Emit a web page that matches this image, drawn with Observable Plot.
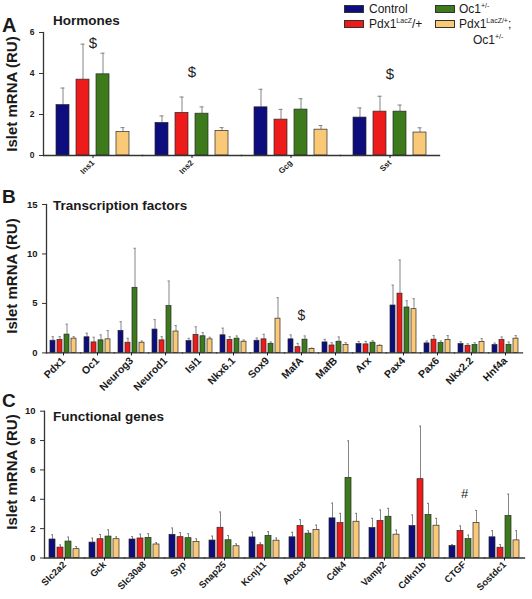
<!DOCTYPE html>
<html><head><meta charset="utf-8">
<script src="https://cdn.jsdelivr.net/npm/d3@7"></script>
<script src="https://cdn.jsdelivr.net/npm/@observablehq/plot@0.6"></script>
<style>
body{margin:0;background:#fff;font-family:"Liberation Sans",Arial,sans-serif;color:#1a1a1a;}
#wrap{position:relative;width:532px;height:599px;overflow:hidden;background:#fff;}
.panel{position:absolute;left:0;}
.letter{position:absolute;font-weight:bold;font-size:20px;line-height:1;}
.title{position:absolute;font-weight:bold;font-size:13.5px;line-height:1;white-space:nowrap;}
.ylab{position:absolute;font-weight:bold;font-size:15px;line-height:1;white-space:nowrap;transform:translate(-50%,-50%) rotate(-90deg);}
.sw{position:absolute;width:20px;height:8px;box-sizing:border-box;border:1px solid #333;}
.lt{position:absolute;font-size:12px;line-height:1;white-space:nowrap;}
.lt sup{font-size:7px;vertical-align:5px;line-height:0;}
</style></head>
<body><div id="wrap"></div>
<script>
const genotypes = ["Control", "Pdx1LacZ/+", "Oc1+/-", "Pdx1LacZ/+;Oc1+/-"];
const colors = ["#0d0d7d", "#ee1b1b", "#3c7a1b", "#f9c978"];

// Panel A: Hormones
const hormoneGenes = ["Ins1", "Ins2", "Gcg", "Sst"];
const hormoneMeans = [
  [2.46, 1.59, 2.35, 1.85],
  [3.70, 2.08, 1.75, 2.14],
  [3.96, 2.04, 2.24, 2.14],
  [1.14, 1.20, 1.26, 1.12]
];
const hormoneUpper = [
  [3.29, 1.93, 3.23, 2.32],
  [5.43, 2.85, 2.25, 2.89],
  [4.99, 2.37, 2.77, 2.46],
  [1.36, 1.36, 1.46, 1.35]
];
const hormoneMarks = [
  {gene: "Ins1", y: 5.48, label: "$"},
  {gene: "Ins2", y: 4.05, label: "$"},
  {gene: "Sst", y: 3.97, label: "$"}
];
const hormoneTicks = [0, 2, 4, 6];

// Panel B: Transcription factors
const tfGenes = ["Pdx1", "Oc1", "Neurog3", "Neurod1", "Isl1", "Nkx6.1", "Sox9", "MafA", "MafB", "Arx", "Pax4", "Pax6", "Nkx2.2", "Hnf4a"];
const tfMeans = [
  [1.23, 1.58, 2.23, 2.36, 1.20, 1.78, 1.23, 1.37, 1.06, 0.89, 4.79, 0.96, 0.89, 0.79],
  [1.30, 1.06, 1.03, 1.27, 1.82, 1.30, 1.37, 0.58, 0.75, 0.86, 5.99, 1.34, 0.72, 1.30],
  [1.85, 1.27, 6.58, 4.73, 1.68, 1.44, 0.92, 1.34, 1.13, 1.03, 4.59, 0.99, 0.79, 0.82],
  [1.44, 1.37, 1.03, 2.16, 1.37, 1.13, 3.46, 0.38, 0.79, 0.72, 4.42, 1.30, 1.10, 1.44]
];
const tfUpper = [
  [1.64, 1.99, 3.15, 3.36, 1.47, 2.50, 1.50, 1.82, 1.37, 1.16, 6.85, 1.20, 1.13, 0.99],
  [1.64, 1.58, 1.47, 1.64, 2.64, 1.64, 1.88, 0.96, 1.03, 1.16, 9.39, 1.75, 0.92, 1.61],
  [2.90, 1.82, 10.57, 7.26, 2.05, 1.71, 1.10, 1.71, 1.61, 1.23, 5.27, 1.20, 1.03, 1.10],
  [1.64, 2.26, 1.20, 2.77, 1.58, 1.30, 5.58, 0.48, 1.03, 0.79, 5.48, 1.75, 1.44, 1.75]
];
const tfMarks = [{gene: "MafA", y: 3.8, label: "$"}];
const tfTicks = [0, 5, 10, 15];

// Panel C: Functional genes
const fnGenes = ["Slc2a2", "Gck", "Slc30a8", "Syp", "Snap25", "Kcnj11", "Abcc8", "Cdk4", "Vamp2", "Cdkn1b", "CTGF", "Sostdc1"];
const fnMeans = [
  [1.26, 1.05, 1.26, 1.58, 1.19, 1.40, 1.41, 2.70, 2.04, 2.18, 0.82, 1.41],
  [0.71, 1.28, 1.33, 1.42, 2.06, 0.87, 2.18, 2.38, 2.52, 5.37, 1.84, 0.70],
  [1.12, 1.46, 1.37, 1.35, 1.21, 1.51, 1.66, 5.46, 2.81, 2.93, 1.29, 2.86],
  [0.60, 1.28, 0.92, 1.10, 0.80, 1.18, 1.90, 2.47, 1.59, 2.20, 2.38, 1.20]
];
const fnUpper = [
  [1.58, 1.35, 1.46, 2.04, 1.49, 1.76, 1.75, 3.74, 2.70, 2.93, 0.91, 1.86],
  [0.89, 1.60, 1.62, 1.74, 3.13, 1.03, 2.61, 3.04, 3.27, 8.98, 2.18, 0.91],
  [1.42, 1.92, 1.65, 1.65, 1.53, 1.80, 1.86, 7.98, 3.38, 3.72, 1.56, 4.35],
  [0.78, 1.44, 1.05, 1.30, 0.96, 1.36, 2.24, 3.04, 1.90, 2.70, 3.24, 1.86]
];
const fnMarks = [{gene: "CTGF", y: 4.35, label: "#"}];
const fnTicks = [0, 2, 4, 6, 8, 10];

function makePanel(o) {
  const rows = [];
  o.genes.forEach((g, i) => genotypes.forEach((t, k) => rows.push({gene: g, genotype: t, value: o.means[k][i], upper: o.upper[k][i]})));
  return Plot.plot({
    width: 532, height: o.height,
    marginTop: o.marginTop, marginBottom: o.marginBottom, marginLeft: o.marginLeft, marginRight: o.marginRight,
    style: {fontFamily: "Liberation Sans, Arial, sans-serif", background: "transparent", color: "#1a1a1a", overflow: "visible"},
    fx: {domain: o.genes, padding: 0, label: null},
    x: {domain: genotypes, paddingInner: o.padIn, paddingOuter: o.padOut, axis: null},
    y: {domain: o.yDomain, axis: null},
    color: {domain: genotypes, range: colors},
    marks: [
      Plot.ruleX(rows, {fx: "gene", x: "genotype", y1: "value", y2: "upper", stroke: "#858585", strokeWidth: 1}),
      Plot.tickY(rows, {fx: "gene", x: "genotype", y: "upper", stroke: "#858585", strokeWidth: 1, insetLeft: o.capInset, insetRight: o.capInset}),
      Plot.barY(rows, {fx: "gene", x: "genotype", y: "value", fill: "genotype", stroke: "#2a2a2a", strokeWidth: 0.7}),
      Plot.text(o.marks, {fx: "gene", y: "y", text: "label", fontSize: o.markFont, fill: "#222"}),
      Plot.frame({anchor: "bottom", stroke: "#333", strokeWidth: 1.3}),
      Plot.frame({anchor: "left", facetAnchor: "left", stroke: "#333", strokeWidth: 1.3}),
      Plot.axisY(o.ticks, {anchor: "left", tickSize: 4, fontSize: o.yFont, fontWeight: "bold", label: null, stroke: "#333"}),
      Plot.axisFx({anchor: "bottom", tickRotate: -45, tickSize: 3, tickPadding: o.xPad, fontSize: o.xFont, fontWeight: "bold", label: null})
    ]
  });
}

const wrap = document.getElementById("wrap");
function place(el, top) { el.classList.add("panel"); el.style.top = top + "px"; wrap.appendChild(el); }

place(makePanel({genes: hormoneGenes, means: hormoneMeans, upper: hormoneUpper, marks: hormoneMarks, ticks: hormoneTicks,
  yDomain: [0, 6], height: 190, marginTop: 32, marginBottom: 35, marginLeft: 42, marginRight: 93,
  padIn: 0.36, padOut: 0.55, capInset: 4.5, xFont: 8, xPad: 3, yFont: 8.5, markFont: 15}), 0);
place(makePanel({genes: tfGenes, means: tfMeans, upper: tfUpper, marks: tfMarks, ticks: tfTicks,
  yDomain: [0, 15], height: 205, marginTop: 14, marginBottom: 42.6, marginLeft: 40, marginRight: 4,
  padIn: 0.25, padOut: 0.48, capInset: 1.5, xFont: 10.5, xPad: 3, yFont: 9.5, markFont: 14}), 190);
place(makePanel({genes: fnGenes, means: fnMeans, upper: fnUpper, marks: fnMarks, ticks: fnTicks,
  yDomain: [0, 10], height: 204, marginTop: 15.7, marginBottom: 41.5, marginLeft: 40, marginRight: 4,
  padIn: 0.23, padOut: 0.47, capInset: 2, xFont: 9.5, xPad: 2, yFont: 9.5, markFont: 13}), 395);

const html = `
<div class="letter" style="left:2px;top:15px">A</div>
<div class="letter" style="left:2px;top:187px;font-size:19px">B</div>
<div class="letter" style="left:2px;top:391px;font-size:19px">C</div>
<div class="title" style="left:53px;top:14px">Hormones</div>
<div class="title" style="left:53px;top:199px">Transcription factors</div>
<div class="title" style="left:53px;top:410px">Functional genes</div>
<div class="ylab" style="left:11px;top:94px">Islet mRNA (RU)</div>
<div class="ylab" style="left:11px;top:276px">Islet mRNA (RU)</div>
<div class="ylab" style="left:11px;top:472px">Islet mRNA (RU)</div>
<div class="sw" style="left:344px;top:5px;background:${colors[0]}"></div>
<div class="lt" style="left:369px;top:3px">Control</div>
<div class="sw" style="left:435px;top:5px;background:${colors[2]}"></div>
<div class="lt" style="left:459px;top:3px">Oc1<sup>+/-</sup></div>
<div class="sw" style="left:344px;top:20px;background:${colors[1]}"></div>
<div class="lt" style="left:369px;top:18px">Pdx1<sup>LacZ</sup>/+</div>
<div class="sw" style="left:435px;top:20px;background:${colors[3]}"></div>
<div class="lt" style="left:459px;top:18px">Pdx1<sup>LacZ/+</sup>;</div>
<div class="lt" style="left:473px;top:34px">Oc1<sup>+/-</sup></div>`;
wrap.insertAdjacentHTML("beforeend", html);
</script></body></html>
